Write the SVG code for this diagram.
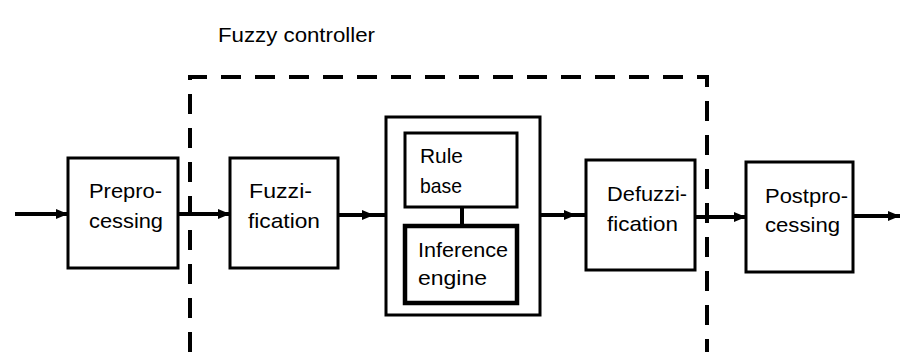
<svg xmlns="http://www.w3.org/2000/svg" width="903" height="352" viewBox="0 0 903 352">
<style>
.box{fill:none;stroke:#000;stroke-width:3}
.thick{fill:none;stroke:#000;stroke-width:4.5}
.dash{fill:none;stroke:#000;stroke-width:4;stroke-dasharray:20 14}
.wire{fill:none;stroke:#000;stroke-width:4}
text{font-family:"Liberation Sans",Arial,sans-serif;font-size:21px;fill:#000}
</style>
<defs>
<marker id="ah" viewBox="0 0 12 10" refX="12" refY="5" markerWidth="12" markerHeight="10" markerUnits="userSpaceOnUse" orient="auto">
<path d="M0,0 L12,5 L0,10 Z" fill="#000"/>
</marker>
</defs>
<rect width="903" height="352" fill="#fff"/>
<g id="controller">
<path class="dash" d="M190,352 V77 H707 V352"/>
<text x="218" y="42" font-size="20" textLength="157" lengthAdjust="spacingAndGlyphs">Fuzzy controller</text>
</g>
<g id="preprocessing">
<rect class="box" x="68" y="158" width="110" height="110"/>
<text x="89" y="198" textLength="73" lengthAdjust="spacingAndGlyphs">Prepro-</text>
<text x="89" y="228" textLength="74" lengthAdjust="spacingAndGlyphs">cessing</text>
</g>
<g id="fuzzification">
<rect class="box" x="230" y="158" width="108" height="110"/>
<text x="249" y="198" textLength="63" lengthAdjust="spacingAndGlyphs">Fuzzi-</text>
<text x="248" y="228" textLength="72" lengthAdjust="spacingAndGlyphs">fication</text>
</g>
<g id="inference">
<rect class="box" x="386" y="117" width="154" height="198"/>
</g>
<g id="rulebase">
<rect class="box" x="405" y="133" width="112" height="74"/>
<text x="420" y="163" textLength="43" lengthAdjust="spacingAndGlyphs">Rule</text>
<text x="420" y="193" textLength="42" lengthAdjust="spacingAndGlyphs">base</text>
</g>
<g id="engine">
<rect class="thick" x="405" y="226" width="112" height="77"/>
<text x="418" y="257" textLength="90" lengthAdjust="spacingAndGlyphs">Inference</text>
<text x="418" y="285" textLength="69" lengthAdjust="spacingAndGlyphs">engine</text>
</g>
<g id="defuzzification">
<rect class="box" x="586" y="160" width="109" height="110"/>
<text x="607" y="201" textLength="80" lengthAdjust="spacingAndGlyphs">Defuzzi-</text>
<text x="607" y="231" textLength="71" lengthAdjust="spacingAndGlyphs">fication</text>
</g>
<g id="postprocessing">
<rect class="box" x="746" y="162" width="107" height="110"/>
<text x="765" y="203" textLength="83" lengthAdjust="spacingAndGlyphs">Postpro-</text>
<text x="765" y="232" textLength="75" lengthAdjust="spacingAndGlyphs">cessing</text>
</g>
<g id="connectors">
<path class="wire" d="M15,214 H68" marker-end="url(#ah)"/>
<path class="wire" d="M178,214 H230" marker-end="url(#ah)"/>
<path class="wire" d="M338,215 H374" marker-end="url(#ah)"/>
<path class="wire" d="M374,215 H386"/>
<path class="wire" d="M540,215 H576" marker-end="url(#ah)"/>
<path class="wire" d="M576,215 H586"/>
<path class="wire" d="M695,217 H746" marker-end="url(#ah)"/>
<path class="wire" d="M853,216 H900" marker-end="url(#ah)"/>
<path class="wire" d="M462,207 V226"/>
</g>
</svg>
